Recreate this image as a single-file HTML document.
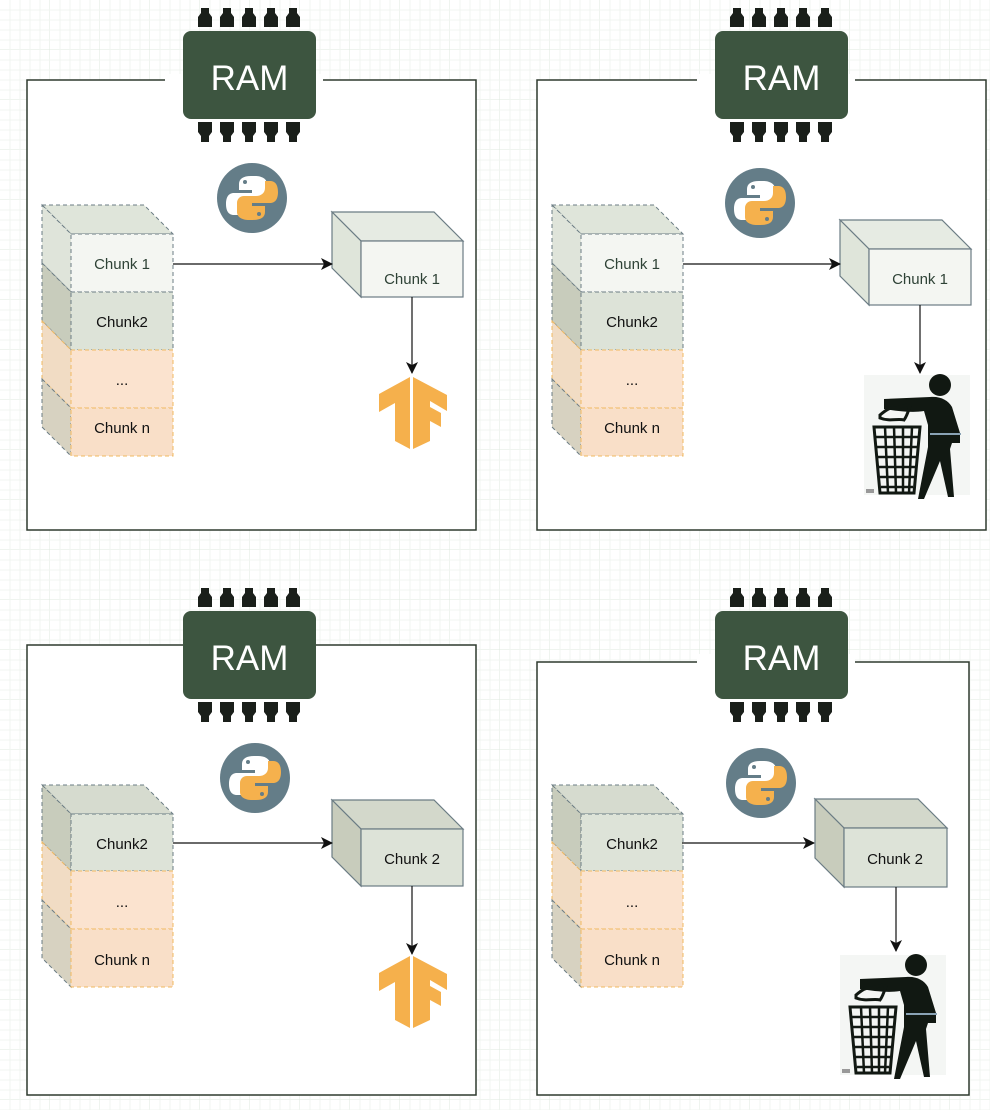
<!DOCTYPE html>
<html><head><meta charset="utf-8"><style>
html,body{margin:0;padding:0;background:#fff}
svg{display:block}
text{font-family:"Liberation Sans",sans-serif}
</style></head><body>
<svg width="990" height="1110" viewBox="0 0 990 1110" xmlns="http://www.w3.org/2000/svg">
<defs>
<pattern id="grid" width="50" height="50" patternUnits="userSpaceOnUse">
<path d="M50 0V50M0 50H50" stroke="#dfe8df" stroke-width="1" fill="none"/>
<path d="M10 0V50M20 0V50M30 0V50M40 0V50M0 10H50M0 20H50M0 30H50M0 40H50" stroke="#f1f4f1" stroke-width="1" fill="none"/>
</pattern>
<g id="pinT"><path d="M-4 0h8v5l3 4v10h-14v-10l3-4z" fill="#1a1f1a"/></g>
<g id="pinB"><path d="M-7 0h14v10l-3 4v6h-8v-6l-3-4z" fill="#1a1f1a"/></g>
<g id="ram">
<rect x="165" y="74" width="158" height="12" fill="#fff"/>
<use href="#pinT" x="205" y="8"/><use href="#pinT" x="227" y="8"/><use href="#pinT" x="249" y="8"/><use href="#pinT" x="271" y="8"/><use href="#pinT" x="293" y="8"/>
<rect x="183" y="31" width="133" height="88" rx="8" fill="#3d5540"/>
<use href="#pinB" x="205" y="122"/><use href="#pinB" x="227" y="122"/><use href="#pinB" x="249" y="122"/><use href="#pinB" x="271" y="122"/><use href="#pinB" x="293" y="122"/>
</g>
<g id="py">
<circle cx="0" cy="0" r="35" fill="#647d88"/>
<path d="M-1 -22c-8 0-12 3-12 8v6h13v3h-18c-6 0-8 5-8 11s2 11 8 11h5v-7c0-5 4-8 9-8h12c4 0 7-3 7-7v-9c0-5-5-8-12-8z" fill="#fff"/>
<path d="M1 22c8 0 12-3 12-8v-6h-13v-3h18c6 0 8-5 8-11s-2-11-8-11h-5v7c0 5-4 8-9 8h-12c-4 0-7 3-7 7v9c0 5 5 8 12 8z" fill="#f5b14d"/>
<circle cx="-7" cy="-16" r="2" fill="#647d88"/><circle cx="7" cy="16" r="2" fill="#647d88"/>
</g>
<g id="tf">
<path d="M31 0L0 17v18l16-9v38l15 8z" fill="#f5b04c"/>
<path d="M34 0l34 18v16l-17-10v6l11 6v14l-11-6v20l-17 8z" fill="#f5b04c"/>
</g>
<g id="trash">
<rect x="0" y="0" width="106" height="120" fill="#f4f6f4"/>
<circle cx="76" cy="10" r="11" fill="#111812"/>
<path d="M20 24l46-2c10-1 18 3 22 10l8 26v10h-8l-2 6 4 48h-6l-8-36-16 38h-6l10-52v-22l-4-14c-12 2-26 0-40-2z" fill="#111812"/>
<rect x="66" y="58" width="31" height="2" fill="#8aa3b5"/>
<path d="M16 40c6-5 10-8 16-7 6-1 10-4 14-2-2 6-3 10-6 14-6-2-14 2-24-2z" fill="none" stroke="#111812" stroke-width="3"/>
<path d="M10 52h46l-6 66h-34z" fill="none" stroke="#111812" stroke-width="3"/>
<path d="M12 62h42M13 72h40M14 82h38M15 92h36M16 102h34M17 112h32M21 52l3 66M30 52l2 66M39 52l0 66M48 52l-3 66" stroke="#111812" stroke-width="2.5"/>
<rect x="2" y="114" width="8" height="4" fill="#999"/>
</g>
<marker id="ah" markerWidth="12" markerHeight="12" refX="11" refY="6" orient="auto" markerUnits="userSpaceOnUse"><path d="M0 0L12 6L0 12L3 6z" fill="#111"/></marker>
</defs>
<rect width="990" height="1110" fill="url(#grid)"/>

<!-- Panel 1 -->
<rect x="27" y="80" width="449" height="450" fill="#fff" stroke="#2f3a2f" stroke-width="1.5"/>
<use href="#ram"/>
<text x="249.5" y="90" font-size="35" fill="#fff" text-anchor="middle">RAM</text>
<use href="#py" x="252" y="198"/>
<g stroke-dasharray="4 3" stroke="#6b7c84" stroke-width="1">
<path d="M42 205H144L173 234H71z" fill="#dfe5da"/>
<path d="M42 205L71 234V292L42 263z" fill="#dfe4da"/>
<path d="M42 263L71 292V350L42 321z" fill="#c8ccbc"/>
<path d="M42 321L71 350V408L42 379z" fill="#f1dcc4" stroke="#f0b860"/>
<path d="M42 379L71 408V456L42 427z" fill="#d7d2c1"/>
<rect x="71" y="234" width="102" height="58" fill="#f4f6f2"/>
<rect x="71" y="292" width="102" height="58" fill="#dde3d8"/>
<rect x="71" y="350" width="102" height="58" fill="#fbe3cf" stroke="#f0b860"/>
<rect x="71" y="408" width="102" height="48" fill="#f9dfc8" stroke="#f0b860"/>
</g>
<text x="122" y="269" font-size="15" fill="#2e4236" text-anchor="middle">Chunk 1</text>
<text x="122" y="327" font-size="15" fill="#111" text-anchor="middle">Chunk2</text>
<text x="122" y="385" font-size="15" fill="#111" text-anchor="middle">...</text>
<text x="122" y="433" font-size="15" fill="#111" text-anchor="middle">Chunk n</text>
<g stroke="#6b7c84" stroke-width="1.2">
<path d="M332 212H434L463 241H361z" fill="#e6ebe3"/>
<path d="M332 212L361 241V297L332 268z" fill="#dfe5da"/>
<rect x="361" y="241" width="102" height="56" fill="#f4f6f2"/>
</g>
<text x="412" y="284" font-size="15" fill="#2e4236" text-anchor="middle">Chunk 1</text>
<line x1="173" y1="264" x2="332" y2="264" stroke="#111" stroke-width="1.2" marker-end="url(#ah)"/>
<line x1="412" y1="297" x2="412" y2="373" stroke="#111" stroke-width="1.2" marker-end="url(#ah)"/>
<use href="#tf" x="379" y="377"/>

<!-- Panel 2 -->
<rect x="537" y="80" width="449" height="450" fill="#fff" stroke="#2f3a2f" stroke-width="1.5"/>
<use href="#ram" x="532"/>
<text x="781.5" y="90" font-size="35" fill="#fff" text-anchor="middle">RAM</text>
<use href="#py" x="760" y="203"/>
<g transform="translate(510,0)">
<g stroke-dasharray="4 3" stroke="#6b7c84" stroke-width="1">
<path d="M42 205H144L173 234H71z" fill="#dfe5da"/>
<path d="M42 205L71 234V292L42 263z" fill="#dfe4da"/>
<path d="M42 263L71 292V350L42 321z" fill="#c8ccbc"/>
<path d="M42 321L71 350V408L42 379z" fill="#f1dcc4" stroke="#f0b860"/>
<path d="M42 379L71 408V456L42 427z" fill="#d7d2c1"/>
<rect x="71" y="234" width="102" height="58" fill="#f4f6f2"/>
<rect x="71" y="292" width="102" height="58" fill="#dde3d8"/>
<rect x="71" y="350" width="102" height="58" fill="#fbe3cf" stroke="#f0b860"/>
<rect x="71" y="408" width="102" height="48" fill="#f9dfc8" stroke="#f0b860"/>
</g>
<text x="122" y="269" font-size="15" fill="#2e4236" text-anchor="middle">Chunk 1</text>
<text x="122" y="327" font-size="15" fill="#111" text-anchor="middle">Chunk2</text>
<text x="122" y="385" font-size="15" fill="#111" text-anchor="middle">...</text>
<text x="122" y="433" font-size="15" fill="#111" text-anchor="middle">Chunk n</text>
</g>
<g stroke="#6b7c84" stroke-width="1.2">
<path d="M840 220H942L971 249H869z" fill="#e6ebe3"/>
<path d="M840 220L869 249V305L840 276z" fill="#dfe5da"/>
<rect x="869" y="249" width="102" height="56" fill="#f4f6f2"/>
</g>
<text x="920" y="284" font-size="15" fill="#2e4236" text-anchor="middle">Chunk 1</text>
<line x1="683" y1="264" x2="840" y2="264" stroke="#111" stroke-width="1.2" marker-end="url(#ah)"/>
<line x1="920" y1="305" x2="920" y2="373" stroke="#111" stroke-width="1.2" marker-end="url(#ah)"/>
<use href="#trash" x="864" y="375"/>

<!-- Panel 3 -->
<rect x="27" y="645" width="449" height="450" fill="#fff" stroke="#2f3a2f" stroke-width="1.5"/>
<use href="#ram" y="580"/>
<text x="249.5" y="670" font-size="35" fill="#fff" text-anchor="middle">RAM</text>
<use href="#py" x="255" y="778"/>
<g stroke-dasharray="4 3" stroke="#6b7c84" stroke-width="1">
<path d="M42 785H144L173 814H71z" fill="#d6dbcf"/>
<path d="M42 785L71 814V871L42 842z" fill="#c8ccbc"/>
<path d="M42 842L71 871V929L42 900z" fill="#f1dcc4" stroke="#f0b860"/>
<path d="M42 900L71 929V987L42 958z" fill="#d7d2c1"/>
<rect x="71" y="814" width="102" height="57" fill="#dde3d8"/>
<rect x="71" y="871" width="102" height="58" fill="#fbe3cf" stroke="#f0b860"/>
<rect x="71" y="929" width="102" height="58" fill="#f9dfc8" stroke="#f0b860"/>
</g>
<text x="122" y="849" font-size="15" fill="#111" text-anchor="middle">Chunk2</text>
<text x="122" y="907" font-size="15" fill="#111" text-anchor="middle">...</text>
<text x="122" y="965" font-size="15" fill="#111" text-anchor="middle">Chunk n</text>
<g stroke="#6b7c84" stroke-width="1.2">
<path d="M332 800H434L463 829H361z" fill="#d3d8cb"/>
<path d="M332 800L361 829V886L332 857z" fill="#c8ccbc"/>
<rect x="361" y="829" width="102" height="57" fill="#dde3d8"/>
</g>
<text x="412" y="864" font-size="15" fill="#111" text-anchor="middle">Chunk 2</text>
<line x1="173" y1="843" x2="332" y2="843" stroke="#111" stroke-width="1.2" marker-end="url(#ah)"/>
<line x1="412" y1="886" x2="412" y2="954" stroke="#111" stroke-width="1.2" marker-end="url(#ah)"/>
<use href="#tf" x="379" y="956"/>

<!-- Panel 4 -->
<rect x="537" y="662" width="432" height="433" fill="#fff" stroke="#2f3a2f" stroke-width="1.5"/>
<rect x="697" y="656" width="158" height="12" fill="#fff"/>
<use href="#ram" x="532" y="580"/>
<text x="781.5" y="670" font-size="35" fill="#fff" text-anchor="middle">RAM</text>
<use href="#py" x="761" y="783"/>
<g transform="translate(510,0)">
<g stroke-dasharray="4 3" stroke="#6b7c84" stroke-width="1">
<path d="M42 785H144L173 814H71z" fill="#d6dbcf"/>
<path d="M42 785L71 814V871L42 842z" fill="#c8ccbc"/>
<path d="M42 842L71 871V929L42 900z" fill="#f1dcc4" stroke="#f0b860"/>
<path d="M42 900L71 929V987L42 958z" fill="#d7d2c1"/>
<rect x="71" y="814" width="102" height="57" fill="#dde3d8"/>
<rect x="71" y="871" width="102" height="58" fill="#fbe3cf" stroke="#f0b860"/>
<rect x="71" y="929" width="102" height="58" fill="#f9dfc8" stroke="#f0b860"/>
</g>
<text x="122" y="849" font-size="15" fill="#111" text-anchor="middle">Chunk2</text>
<text x="122" y="907" font-size="15" fill="#111" text-anchor="middle">...</text>
<text x="122" y="965" font-size="15" fill="#111" text-anchor="middle">Chunk n</text>
</g>
<g stroke="#6b7c84" stroke-width="1.2">
<path d="M815 799H918L947 828H844z" fill="#d3d8cb"/>
<path d="M815 799L844 828V887L815 858z" fill="#c8ccbc"/>
<rect x="844" y="828" width="103" height="59" fill="#dde3d8"/>
</g>
<text x="895" y="864" font-size="15" fill="#111" text-anchor="middle">Chunk 2</text>
<line x1="682" y1="843" x2="814" y2="843" stroke="#111" stroke-width="1.2" marker-end="url(#ah)"/>
<line x1="896" y1="887" x2="896" y2="951" stroke="#111" stroke-width="1.2" marker-end="url(#ah)"/>
<use href="#trash" x="840" y="955"/>
</svg>
</body></html>
